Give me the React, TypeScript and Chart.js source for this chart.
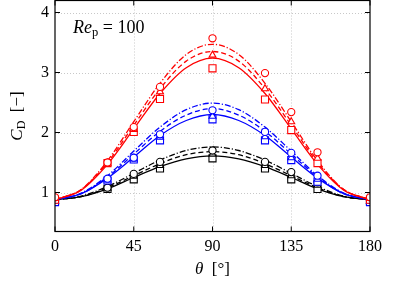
import React, { useEffect, useRef } from "react";
import { Chart, registerables } from "chart.js";

Chart.register(...registerables);

// Curve sample angles (deg) and marker angles
const thetaLine = [0, 15, 30, 45, 60, 75, 90, 105, 120, 135, 150, 165, 180];
const thetaMark = [0, 30, 45, 60, 90, 120, 135, 150, 180];

// Red curves
const redSolid = [0.88, 1.04, 1.47, 2.06, 2.65, 3.08, 3.24, 3.08, 2.65, 2.06, 1.47, 1.04, 0.88];
const redDashed = [0.88, 1.05, 1.5, 2.12, 2.73, 3.19, 3.35, 3.19, 2.73, 2.12, 1.5, 1.05, 0.88];
const redDashDot = [0.88, 1.05, 1.53, 2.18, 2.82, 3.3, 3.47, 3.3, 2.82, 2.18, 1.53, 1.05, 0.88];
// Blue curves
const blueSolid = [0.88, 0.98, 1.24, 1.59, 1.95, 2.2, 2.3, 2.2, 1.95, 1.59, 1.24, 0.98, 0.88];
const blueDashed = [0.88, 0.98, 1.26, 1.64, 2.02, 2.29, 2.4, 2.29, 2.02, 1.64, 1.26, 0.98, 0.88];
const blueDashDot = [0.88, 0.99, 1.28, 1.69, 2.09, 2.38, 2.49, 2.38, 2.09, 1.69, 1.28, 0.99, 0.88];
// Black curves
const blackSolid = [0.88, 0.93, 1.06, 1.25, 1.43, 1.56, 1.61, 1.56, 1.43, 1.25, 1.06, 0.93, 0.88];
const blackDashed = [0.88, 0.93, 1.08, 1.28, 1.48, 1.63, 1.68, 1.63, 1.48, 1.28, 1.08, 0.93, 0.88];
const blackDashDot = [0.88, 0.94, 1.1, 1.32, 1.54, 1.7, 1.76, 1.7, 1.54, 1.32, 1.1, 0.94, 0.88];

// Markers
const redCircle = [0.92, 1.5, 2.09, 2.76, 3.57, 2.99, 2.34, 1.67, 0.92];
const redTriangle = [0.9, 1.49, 2.05, 2.68, 3.29, 2.73, 2.18, 1.57, 0.9];
const redSquare = [0.88, 1.49, 2.01, 2.56, 3.07, 2.55, 2.04, 1.49, 0.88];
const blueCircle = [0.88, 1.23, 1.58, 1.97, 2.37, 2.01, 1.66, 1.28, 0.88];
const blueTriangle = [0.86, 1.21, 1.56, 1.92, 2.27, 1.93, 1.58, 1.22, 0.86];
const blueSquare = [0.84, 1.2, 1.55, 1.87, 2.22, 1.87, 1.54, 1.18, 0.84];
const blackCircle = [0.87, 1.08, 1.31, 1.51, 1.7, 1.51, 1.34, 1.17, 0.87];
const blackTriangle = [0.86, 1.07, 1.27, 1.45, 1.64, 1.45, 1.28, 1.12, 0.86];
const blackSquare = [0.85, 1.06, 1.22, 1.4, 1.57, 1.4, 1.22, 1.06, 0.85];

const xTicks = [0, 45, 90, 135, 180];
const yTicks = [1, 2, 3, 4];

const RED = "#ff0000";
const BLUE = "#0000ff";
const BLACK = "#000000";
const SERIF = '"Liberation Serif", "Times New Roman", serif';

const pts = (xs: number[], ys: number[]) => xs.map((x, i) => ({ x, y: ys[i] }));

const lineDs = (ys: number[], color: string, dash: number[]) => ({
  type: "line" as const,
  data: pts(thetaLine, ys),
  borderColor: color,
  borderWidth: 1.3,
  borderDash: dash,
  pointRadius: 0,
  fill: false,
  cubicInterpolationMode: "monotone" as const,
  showLine: true,
});

const markDs = (ys: number[], color: string, style: string, r: number) => ({
  type: "line" as const,
  data: pts(thetaMark, ys),
  borderColor: color,
  backgroundColor: "#ffffff",
  pointBorderColor: color,
  pointBackgroundColor: "#ffffff",
  pointBorderWidth: 1.1,
  pointStyle: style,
  pointRadius: r,
  showLine: false,
});

const DASH = [5, 3];
const DASHDOT = [6, 2, 1.2, 2];

const framePlugin = {
  id: "framePlugin",
  beforeDatasetsDraw(chart: any) {
    const { ctx, chartArea: a, scales } = chart;
    ctx.save();
    ctx.strokeStyle = "#c8c8c8";
    ctx.lineWidth = 1;
    ctx.setLineDash([1, 2]);
    for (const t of xTicks) {
      if (t === 0 || t === 180) continue;
      const x = Math.round(scales.x.getPixelForValue(t)) + 0.5;
      ctx.beginPath();
      ctx.moveTo(x, a.top);
      ctx.lineTo(x, a.bottom);
      ctx.stroke();
    }
    for (const t of yTicks) {
      const y = Math.round(scales.y.getPixelForValue(t)) + 0.5;
      ctx.beginPath();
      ctx.moveTo(a.left, y);
      ctx.lineTo(a.right, y);
      ctx.stroke();
    }
    ctx.restore();
  },
  afterDraw(chart: any) {
    const { ctx, chartArea: a, scales } = chart;
    ctx.save();
    ctx.strokeStyle = "#000";
    ctx.lineWidth = 1.2;
    ctx.setLineDash([]);
    ctx.strokeRect(a.left, a.top, a.right - a.left, a.bottom - a.top);
    const L = 5;
    ctx.lineWidth = 1;
    for (const t of xTicks) {
      const x = scales.x.getPixelForValue(t);
      ctx.beginPath();
      ctx.moveTo(x, a.bottom);
      ctx.lineTo(x, a.bottom - L);
      ctx.moveTo(x, a.top);
      ctx.lineTo(x, a.top + L);
      ctx.stroke();
    }
    for (const t of yTicks) {
      const y = scales.y.getPixelForValue(t);
      ctx.beginPath();
      ctx.moveTo(a.left, y);
      ctx.lineTo(a.left + L, y);
      ctx.moveTo(a.right, y);
      ctx.lineTo(a.right - L, y);
      ctx.stroke();
    }

    type Piece = { t: string; font: string; dy: number };
    const drawPieces = (pieces: Piece[], cx: number, baseY: number, align: "center" | "left") => {
      let total = 0;
      const ws = pieces.map((p) => {
        ctx.font = p.font;
        const w = ctx.measureText(p.t).width;
        total += w;
        return w;
      });
      let x = align === "center" ? cx - total / 2 : cx;
      ctx.textAlign = "left";
      ctx.textBaseline = "alphabetic";
      pieces.forEach((p, i) => {
        ctx.font = p.font;
        ctx.fillText(p.t, x, baseY + p.dy);
        x += ws[i];
      });
    };
    ctx.fillStyle = "#000";
    // x title
    drawPieces(
      [
        { t: "θ", font: `italic 17px ${SERIF}`, dy: 0 },
        { t: "  [°]", font: `17px ${SERIF}`, dy: 0 },
      ],
      (a.left + a.right) / 2,
      274,
      "center"
    );
    // y title (rotated)
    ctx.save();
    ctx.translate(22, (a.top + a.bottom) / 2);
    ctx.rotate(-Math.PI / 2);
    drawPieces(
      [
        { t: "C", font: `italic 17px ${SERIF}`, dy: 0 },
        { t: "D", font: `12px ${SERIF}`, dy: 3 },
        { t: "  [−]", font: `17px ${SERIF}`, dy: 0 },
      ],
      0,
      0,
      "center"
    );
    ctx.restore();
    // annotation
    drawPieces(
      [
        { t: "Re", font: `italic 18px ${SERIF}`, dy: 0 },
        { t: "p", font: `12.5px ${SERIF}`, dy: 3 },
        { t: " = 100", font: `18px ${SERIF}`, dy: 0 },
      ],
      73,
      33,
      "left"
    );
    ctx.restore();
  },
};

export default function App() {
  const ref = useRef<HTMLCanvasElement>(null);
  useEffect(() => {
    if (!ref.current) return;
    const chart = new Chart(ref.current, {
      type: "line",
      data: {
        datasets: [
          markDs(redCircle, RED, "circle", 3.6),
          markDs(redTriangle, RED, "triangle", 4),
          markDs(redSquare, RED, "rect", 5),
          lineDs(redSolid, RED, []),
          lineDs(redDashed, RED, DASH),
          lineDs(redDashDot, RED, DASHDOT),
          markDs(blueCircle, BLUE, "circle", 3.6),
          markDs(blueTriangle, BLUE, "triangle", 4),
          markDs(blueSquare, BLUE, "rect", 5),
          lineDs(blueSolid, BLUE, []),
          lineDs(blueDashed, BLUE, DASH),
          lineDs(blueDashDot, BLUE, DASHDOT),
          markDs(blackCircle, BLACK, "circle", 3.6),
          markDs(blackTriangle, BLACK, "triangle", 4),
          markDs(blackSquare, BLACK, "rect", 5),
          lineDs(blackSolid, BLACK, []),
          lineDs(blackDashed, BLACK, DASH),
          lineDs(blackDashDot, BLACK, DASHDOT),
        ] as any,
      },
      options: {
        animation: false,
        responsive: false,
        devicePixelRatio: 1,
        layout: { autoPadding: false, padding: { left: 0, right: 24, top: 0.5, bottom: 0 } },
        plugins: { legend: { display: false }, tooltip: { enabled: false } },
        scales: {
          x: {
            type: "linear",
            min: 0,
            max: 180,
            grid: { display: false, drawTicks: false },
            border: { display: false },
            afterBuildTicks: (s: any) => {
              s.ticks = xTicks.map((v) => ({ value: v }));
            },
            afterFit: (s: any) => {
              s.height = 52.5;
              s.paddingLeft = 0;
              s.paddingRight = 0;
            },
            ticks: {
              padding: 6,
              color: "#000",
              font: { family: SERIF, size: 16 },
              maxRotation: 0,
              autoSkip: false,
            },
          },
          y: {
            type: "linear",
            min: 0.35,
            max: 4.2,
            grid: { display: false, drawTicks: false },
            border: { display: false },
            afterBuildTicks: (s: any) => {
              s.ticks = yTicks.map((v) => ({ value: v }));
            },
            afterFit: (s: any) => {
              s.width = 55;
              s.paddingTop = 0;
              s.paddingBottom = 0;
            },
            ticks: {
              padding: 6,
              color: "#000",
              font: { family: SERIF, size: 16 },
            },
          },
        },
      } as any,
      plugins: [framePlugin],
    });
    return () => chart.destroy();
  }, []);
  return (
    <div style={{ position: "absolute", left: 0, top: 0, width: 394, height: 284, background: "#fff" }}>
      <canvas ref={ref} width={394} height={284} style={{ display: "block" }} />
    </div>
  );
}
